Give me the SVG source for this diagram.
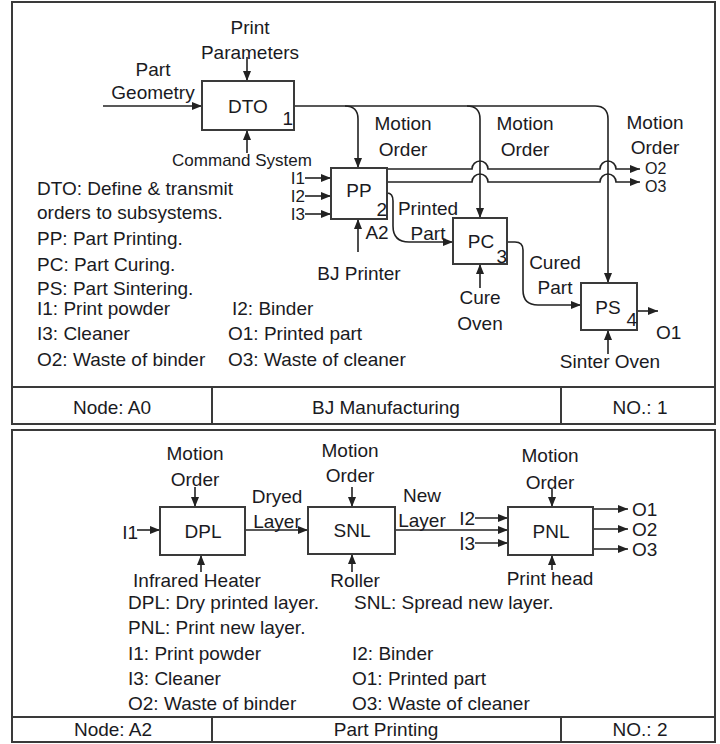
<svg xmlns="http://www.w3.org/2000/svg" width="720" height="744" viewBox="0 0 720 744">
<defs>
<marker id="ah" markerUnits="userSpaceOnUse" markerWidth="10" markerHeight="10" viewBox="0 0 10 10" refX="10" refY="5" orient="auto">
<path d="M0,1 L10,5 L0,9 Z" fill="#222"/>
</marker>
</defs>
<style>
text{font-family:"Liberation Sans",Arial,sans-serif;font-size:19px;fill:#1a1a22}
.c{text-anchor:middle}
.e{text-anchor:end}
.s{font-size:17px}
.t{font-size:16px}
.box{fill:#fff;stroke:#3a3a3a;stroke-width:2}
.frame{fill:#fff;stroke:#3a3a3a;stroke-width:2}
.ln{fill:none;stroke:#3a3a3a;stroke-width:2}
.cn{fill:none;stroke:#222;stroke-width:1.6}
.ar{marker-end:url(#ah)}
</style>
<rect width="720" height="744" fill="#fff"/>

<!-- Panel 1 frame -->
<g id="panel1">
<rect class="frame" x="12" y="2" width="703" height="422"/>
<line class="ln" x1="12" y1="387" x2="715" y2="387"/>
<line class="ln" x1="212" y1="387" x2="212" y2="424"/>
<line class="ln" x1="561" y1="387" x2="561" y2="424"/>
<text class="c" x="112" y="414">Node: A0</text>
<text class="c" x="386" y="414">BJ Manufacturing</text>
<text class="c" x="640" y="414">NO.: 1</text>
</g>

<!-- Panel 2 frame -->
<g id="panel2">
<rect class="frame" x="12" y="430" width="703" height="312"/>
<line class="ln" x1="12" y1="717" x2="715" y2="717"/>
<line class="ln" x1="212" y1="717" x2="212" y2="742"/>
<line class="ln" x1="561" y1="717" x2="561" y2="742"/>
<text class="c" x="113" y="736">Node: A2</text>
<text class="c" x="386" y="736">Part Printing</text>
<text class="c" x="640" y="736">NO.: 2</text>
</g>

<!-- Connectors -->
<g id="connectors">
<!-- DTO -->
<path class="cn ar" d="M103,106 H202"/>
<path class="cn ar" d="M247,57 V81"/>
<path class="cn ar" d="M247,153 V130"/>
<path class="cn ar" d="M294,106 H595 Q608,106 608,119 V283"/>
<path class="cn ar" d="M345,106 Q358,106 358,119 V168"/>
<path class="cn ar" d="M467,106 Q480,106 480,119 V218"/>
<!-- PP -->
<path class="cn ar" d="M305,178 H331"/>
<path class="cn ar" d="M305,196 H331"/>
<path class="cn ar" d="M305,214 H331"/>
<path class="cn ar" d="M358,252 V219"/>
<path class="cn ar" d="M387,169 H472 A8,8 0 0 1 488,169 H600 A8,8 0 0 1 616,169 H640"/>
<path class="cn ar" d="M387,182 H472 A8,8 0 0 1 488,182 H600 A8,8 0 0 1 616,182 H640"/>
<path class="cn ar" d="M387,193 Q393,193 393,201 V226 Q393,242 409,242 H453"/>
<!-- PC -->
<path class="cn ar" d="M480,288 V264"/>
<path class="cn ar" d="M507,242 H515 Q523,242 523,250 V290 Q523,305 538,305 H581"/>
<!-- PS -->
<path class="cn ar" d="M637,311 H658"/>
<path class="cn ar" d="M608,354 V330"/>
<!-- Panel 2 -->
<path class="cn ar" d="M195,487 V507"/>
<path class="cn ar" d="M137,530 H160"/>
<path class="cn ar" d="M201,572 V555"/>
<path class="cn ar" d="M245,530 H308"/>
<path class="cn ar" d="M352,487 V507"/>
<path class="cn ar" d="M352,572 V554"/>
<path class="cn ar" d="M395,530 H508"/>
<path class="cn ar" d="M475,518 H508"/>
<path class="cn ar" d="M475,543 H508"/>
<path class="cn ar" d="M552,489 V507"/>
<path class="cn ar" d="M552,570 V555"/>
<path class="cn ar" d="M593,509 H628"/>
<path class="cn ar" d="M593,529 H628"/>
<path class="cn ar" d="M593,549 H628"/>
</g>

<!-- Panel 1 nodes -->
<g id="DTO">
<rect class="box" x="202" y="81" width="92" height="49"/>
<text class="c" x="248" y="113">DTO</text>
<text class="e" x="293" y="125">1</text>
</g>
<g id="PP">
<rect class="box" x="331" y="168" width="56" height="51"/>
<text class="c" x="359" y="197">PP</text>
<text class="e" x="387" y="216">2</text>
</g>
<g id="PC">
<rect class="box" x="453" y="218" width="54" height="46"/>
<text class="c" x="481" y="248">PC</text>
<text class="e" x="507" y="263">3</text>
</g>
<g id="PS">
<rect class="box" x="581" y="283" width="56" height="47"/>
<text class="c" x="608" y="314">PS</text>
<text class="e" x="637" y="326">4</text>
</g>

<!-- Panel 1 labels -->
<g id="labels1">
<text class="c" x="250" y="34">Print</text>
<text class="c" x="250" y="59">Parameters</text>
<text class="c" x="153" y="76">Part</text>
<text class="c" x="153" y="99">Geometry</text>
<text class="c s" x="242" y="166">Command System</text>
<text class="c" x="403" y="130">Motion</text>
<text class="c" x="403" y="156">Order</text>
<text class="c" x="525" y="130">Motion</text>
<text class="c" x="525" y="156">Order</text>
<text class="c" x="655" y="129">Motion</text>
<text class="c" x="655" y="154">Order</text>
<text class="e s" x="305" y="184">I1</text>
<text class="e s" x="305" y="202">I2</text>
<text class="e s" x="305" y="220">I3</text>
<text class="c" x="377" y="239">A2</text>
<text class="c" x="359" y="280">BJ Printer</text>
<text class="c" x="428" y="215">Printed</text>
<text class="c" x="428" y="240">Part</text>
<text class="t" x="645" y="174">O2</text>
<text class="t" x="645" y="192">O3</text>
<text class="c" x="480" y="304">Cure</text>
<text class="c" x="480" y="330">Oven</text>
<text class="c" x="555" y="269">Cured</text>
<text class="c" x="555" y="294">Part</text>
<text x="656" y="339">O1</text>
<text class="c" x="610" y="368">Sinter Oven</text>
<text x="37" y="195">DTO: Define &amp; transmit</text>
<text x="37" y="219">orders to subsystems.</text>
<text x="37" y="245">PP: Part Printing.</text>
<text x="37" y="271">PC: Part Curing.</text>
<text x="37" y="295">PS: Part Sintering.</text>
<text x="37" y="315">I1: Print powder</text>
<text x="232" y="315">I2: Binder</text>
<text x="37" y="340">I3: Cleaner</text>
<text x="228" y="340">O1: Printed part</text>
<text x="37" y="366">O2: Waste of binder</text>
<text x="228" y="366">O3: Waste of cleaner</text>
</g>

<!-- Panel 2 nodes -->
<g id="DPL">
<rect class="box" x="160" y="507" width="85" height="48"/>
<text class="c" x="203" y="538">DPL</text>
</g>
<g id="SNL">
<rect class="box" x="308" y="507" width="87" height="47"/>
<text class="c" x="352" y="537">SNL</text>
</g>
<g id="PNL">
<rect class="box" x="508" y="507" width="85" height="48"/>
<text class="c" x="551" y="538">PNL</text>
</g>

<!-- Panel 2 labels -->
<g id="labels2">
<text class="c" x="195" y="460">Motion</text>
<text class="c" x="195" y="486">Order</text>
<text class="c" x="350" y="457">Motion</text>
<text class="c" x="350" y="482">Order</text>
<text class="c" x="550" y="462">Motion</text>
<text class="c" x="550" y="489">Order</text>
<text class="e" x="138" y="539">I1</text>
<text class="c" x="277" y="503">Dryed</text>
<text class="c" x="277" y="528">Layer</text>
<text class="c" x="422" y="502">New</text>
<text class="c" x="422" y="527">Layer</text>
<text class="e" x="475" y="525">I2</text>
<text class="e" x="475" y="550">I3</text>
<text x="632" y="516">O1</text>
<text x="632" y="536">O2</text>
<text x="632" y="556">O3</text>
<text class="c" x="197" y="587">Infrared Heater</text>
<text class="c" x="355" y="587">Roller</text>
<text class="c" x="550" y="585">Print head</text>
<text x="128" y="609">DPL: Dry printed layer.</text>
<text x="354" y="609">SNL: Spread new layer.</text>
<text x="128" y="634">PNL: Print new layer.</text>
<text x="128" y="660">I1: Print powder</text>
<text x="352" y="660">I2: Binder</text>
<text x="128" y="685">I3: Cleaner</text>
<text x="352" y="685">O1: Printed part</text>
<text x="128" y="710">O2: Waste of binder</text>
<text x="352" y="710">O3: Waste of cleaner</text>
</g>
</svg>
